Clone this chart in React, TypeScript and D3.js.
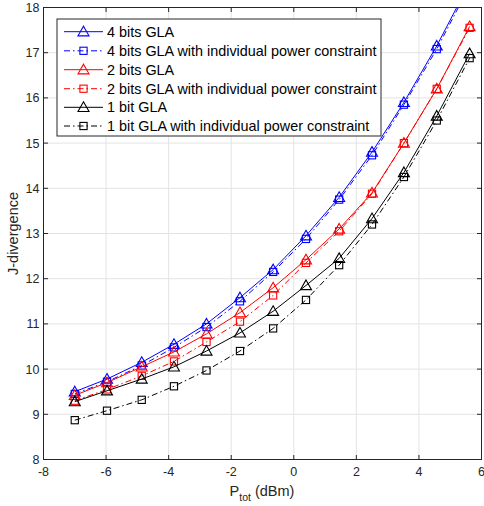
import React from "react";
import * as d3 from "d3";

const xs = [-7, -5.97, -4.86, -3.83, -2.79, -1.72, -0.66, 0.39, 1.45, 2.5, 3.52, 4.57, 5.62];
const bits4 = [9.5, 9.78, 10.15, 10.55, 11.0, 11.58, 12.2, 12.95, 13.8, 14.8, 15.9, 17.15, 18.55];
const bits4Ipc = [9.45, 9.72, 10.08, 10.48, 10.93, 11.5, 12.15, 12.88, 13.75, 14.73, 15.85, 17.08, 18.48];
const bits2 = [9.42, 9.7, 10.05, 10.38, 10.78, 11.25, 11.8, 12.42, 13.1, 13.9, 15.0, 16.2, 17.58];
const bits2Ipc = [9.3, 9.55, 9.85, 10.17, 10.6, 11.05, 11.63, 12.35, 13.05, 13.88, 15.0, 16.2, 17.55];
const bits1 = [9.28, 9.52, 9.78, 10.05, 10.4, 10.8, 11.28, 11.85, 12.45, 13.33, 14.35, 15.6, 16.98];
const bits1Ipc = [8.87, 9.08, 9.32, 9.62, 9.97, 10.4, 10.9, 11.53, 12.3, 13.2, 14.25, 15.5, 16.88];

const seriesNames = [
  "4 bits GLA",
  "4 bits GLA with individual power constraint",
  "2 bits GLA",
  "2 bits GLA with individual power constraint",
  "1 bit GLA",
  "1 bit GLA with individual power constraint",
];
const seriesValues = [bits4, bits4Ipc, bits2, bits2Ipc, bits1, bits1Ipc];
const seriesColors = ["#0000ff", "#0000ff", "#ff0000", "#ff0000", "#000000", "#000000"];
const seriesMarkers = ["tri", "sq", "tri", "sq", "tri", "sq"];
const seriesDash = [null, "6,3,1.5,3", null, "6,3,1.5,3", null, "6,3,1.5,3"];

const xTicks = [-8, -6, -4, -2, 0, 2, 4, 6];
const yTicks = [8, 9, 10, 11, 12, 13, 14, 15, 16, 17, 18];

const W = 484, H = 506;
const L = 43.5, R = 481.5, T = 7.5, B = 459.5;
const FONT = "'Liberation Sans', Arial, Helvetica, sans-serif";

function Marker({ type, x, y, color }: { type: string; x: number; y: number; color: string }) {
  if (type === "tri") {
    const s = 5.5;
    const p = `${x},${y - s} ${x + s},${y + s * 0.75} ${x - s},${y + s * 0.75}`;
    return <polygon points={p} fill="none" stroke={color} strokeWidth={1.1} />;
  }
  const s = 3.6;
  return <rect x={x - s} y={y - s} width={2 * s} height={2 * s} fill="none" stroke={color} strokeWidth={1.1} />;
}

export default function App() {
  const x = d3.scaleLinear().domain([-8, 6]).range([L, R]);
  const y = d3.scaleLinear().domain([8, 18]).range([B, T]);
  const line = d3.line<number>().x((_, i) => x(xs[i])).y((d) => y(d));
  const axisColor = "#262626";

  const legX = 57, legY = 19, legW = 324, legH = 117;
  const rowY = [31.7, 50.8, 69.7, 88.7, 107.3, 126];

  return (
    <svg width={W} height={H} style={{ position: "absolute", left: 0, top: 0 }} fontFamily={FONT}>
      <defs>
        <clipPath id="plotclip">
          <rect x={L} y={T} width={R - L} height={B - T} />
        </clipPath>
      </defs>
      <rect x={0} y={0} width={W} height={H} fill="#fff" />
      {xTicks.map((t) => (
        <line key={"gx" + t} x1={x(t)} x2={x(t)} y1={T} y2={B} stroke="#e3e3e3" strokeWidth={1} />
      ))}
      {yTicks.map((t) => (
        <line key={"gy" + t} x1={L} x2={R} y1={y(t)} y2={y(t)} stroke="#e3e3e3" strokeWidth={1} />
      ))}
      <g clipPath="url(#plotclip)">
        {seriesValues.map((vals, si) => (
          <g key={"s" + si}>
            <path
              d={line(vals) || ""}
              fill="none"
              stroke={seriesColors[si]}
              strokeWidth={1}
              strokeDasharray={seriesDash[si] || undefined}
            />
            {vals.map((v, i) => (
              <Marker key={i} type={seriesMarkers[si]} x={x(xs[i])} y={y(v)} color={seriesColors[si]} />
            ))}
          </g>
        ))}
      </g>
      <rect x={L} y={T} width={R - L} height={B - T} fill="none" stroke={axisColor} strokeWidth={1} />
      {xTicks.map((t) => (
        <g key={"tx" + t}>
          <line x1={x(t)} x2={x(t)} y1={B} y2={B - 4.5} stroke={axisColor} />
          <line x1={x(t)} x2={x(t)} y1={T} y2={T + 4.5} stroke={axisColor} />
          <text x={x(t)} y={B + 16} textAnchor="middle" fontSize={12.5} fill={axisColor}>
            {t}
          </text>
        </g>
      ))}
      {yTicks.map((t) => (
        <g key={"ty" + t}>
          <line x1={L} x2={L + 4.5} y1={y(t)} y2={y(t)} stroke={axisColor} />
          <line x1={R} x2={R - 4.5} y1={y(t)} y2={y(t)} stroke={axisColor} />
          <text x={L - 4} y={y(t) + 4.5} textAnchor="end" fontSize={12.5} fill={axisColor}>
            {t}
          </text>
        </g>
      ))}
      <text x={262} y={496} textAnchor="middle" fontSize={14.5} fill={axisColor}>
        P<tspan fontSize={10.5} dy={4.5}>tot</tspan>
        <tspan dy={-4.5}> (dBm)</tspan>
      </text>
      <text
        transform={`translate(18,${(T + B) / 2}) rotate(-90)`}
        textAnchor="middle"
        fontSize={14.5}
        fill={axisColor}
      >
        J-divergence
      </text>
      <rect x={legX} y={legY} width={legW} height={legH} fill="#fff" stroke={axisColor} strokeWidth={1} />
      {seriesNames.map((name, i) => (
        <g key={"l" + i}>
          <line
            x1={64}
            x2={103}
            y1={rowY[i]}
            y2={rowY[i]}
            stroke={seriesColors[i]}
            strokeWidth={1}
            strokeDasharray={seriesDash[i] || undefined}
          />
          <Marker type={seriesMarkers[i]} x={83.5} y={rowY[i]} color={seriesColors[i]} />
          <text x={107} y={rowY[i] + 5} fontSize={14.4} fill="#000">
            {name}
          </text>
        </g>
      ))}
    </svg>
  );
}
